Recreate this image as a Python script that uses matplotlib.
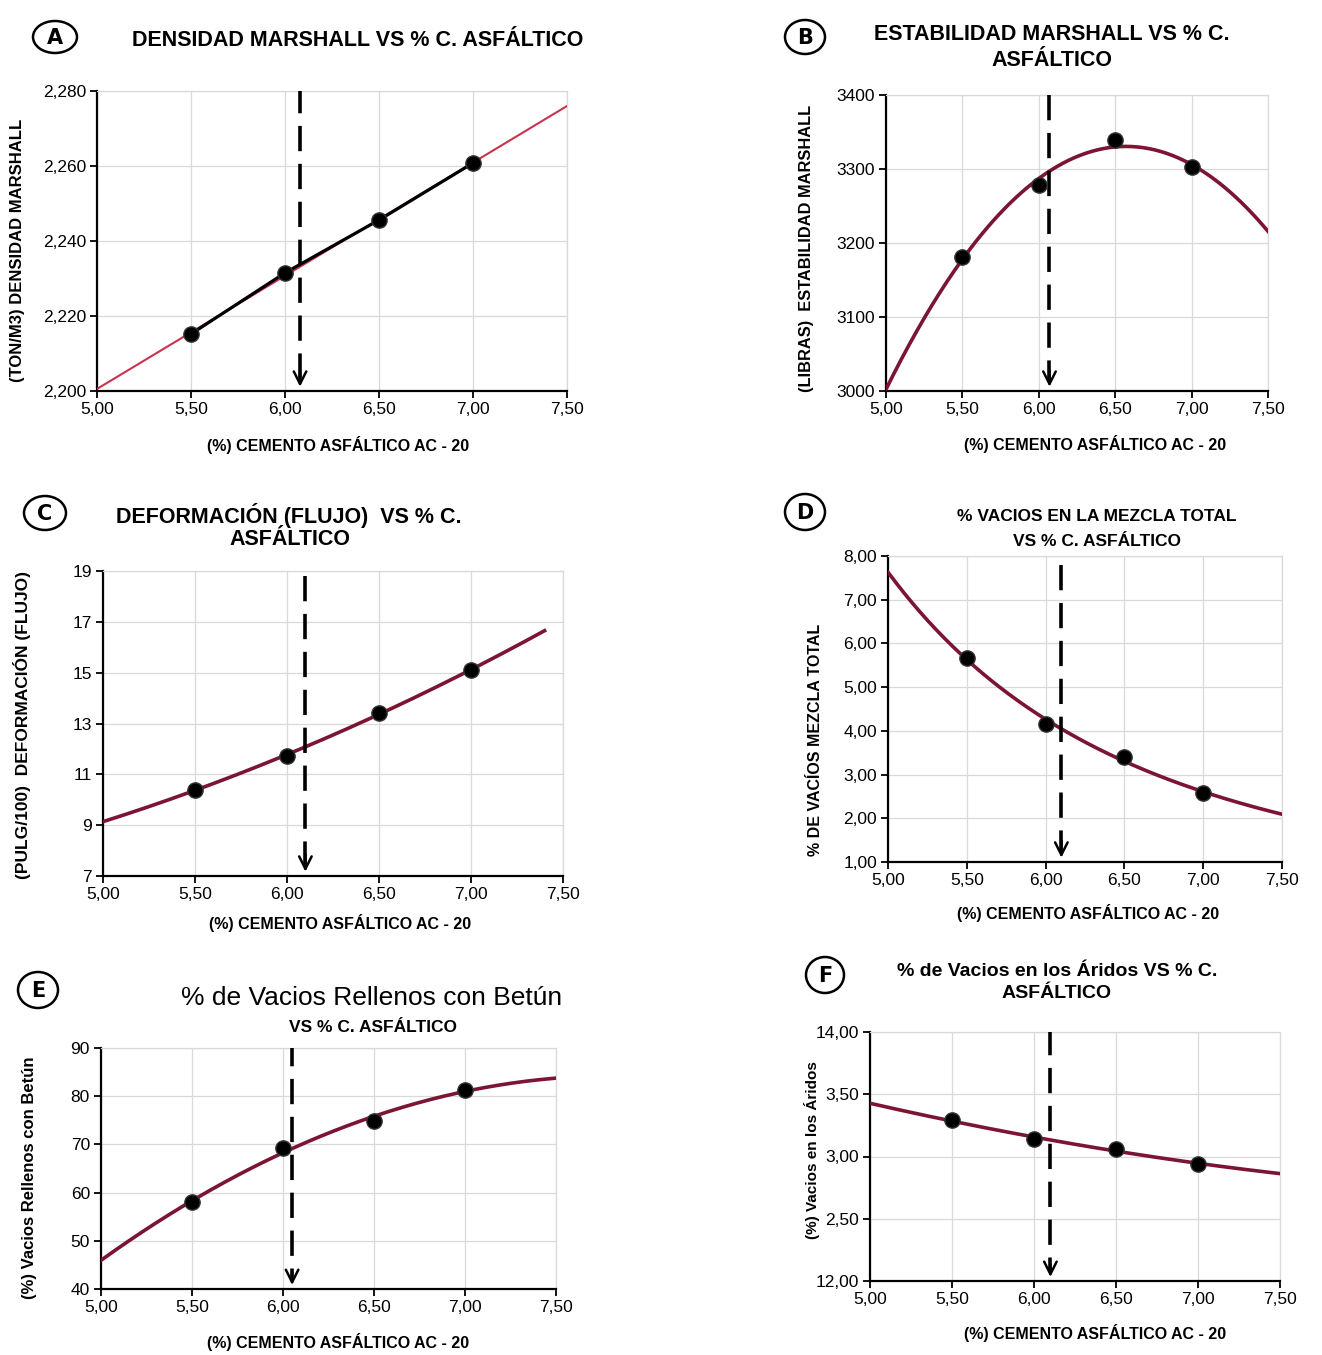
import matplotlib
matplotlib.use("Agg")
import matplotlib.pyplot as plt
from matplotlib.patches import Ellipse
from matplotlib import font_manager
import numpy as np

# ---- data ----
AC = [5.5, 6.0, 6.5, 7.0]                      # % cemento asfáltico
DENSIDAD = [2.2152, 2.2315, 2.2456, 2.2608]     # ton/m3
ESTABILIDAD = [3181, 3278, 3339, 3303]          # libras
FLUJO = [10.39, 11.72, 13.42, 15.10]            # pulg/100
VACIOS_MEZCLA = [5.67, 4.16, 3.40, 2.58]        # %
VRB = [58.0, 69.2, 74.9, 81.3]                  # %
VAM = [13.29, 13.14, 13.06, 12.94]              # %
OPT_AC = [6.08, 6.07, 6.10, 6.10, 6.05, 6.10]   # dashed arrow per panel

X_TICKS = [5.0, 5.5, 6.0, 6.5, 7.0, 7.5]
Y_TICKS_A = [2.200, 2.220, 2.240, 2.260, 2.280]
Y_TICKS_B = [3000, 3100, 3200, 3300, 3400]
Y_TICKS_C = [7, 9, 11, 13, 15, 17, 19]
Y_TICKS_D = [1, 2, 3, 4, 5, 6, 7, 8]
Y_TICKS_E = [40, 50, 60, 70, 80, 90]
Y_TICKS_F = [12.0, 12.5, 13.0, 13.5, 14.0]
Y_LABELS_F = ["12,00", "2,50", "3,00", "3,50", "14,00"]  # as printed on the sheet

XLABEL = "(%) CEMENTO ASFÁLTICO AC - 20"

W, H = 1322, 1355
avail = {f.name for f in font_manager.fontManager.ttflist}
NARROW = "Liberation Sans Narrow" if "Liberation Sans Narrow" in avail else "Liberation Sans"
plt.rcParams["font.family"] = [NARROW, "DejaVu Sans"]

CURVE = "#7b1533"
GRID = "#d9d9d9"

fig = plt.figure(figsize=(W / 100, H / 100), dpi=100)


def px_axes(l, t, r, b):
    return fig.add_axes([l / W, 1 - b / H, (r - l) / W, (b - t) / H])


def ftext(x, y, s, **kw):
    fig.text(x / W, 1 - y / H, s, ha="center", va="center", **kw)


def badge(x, y, w, h, letter):
    fig.patches.append(Ellipse((x / W, 1 - y / H), w / W, h / H, fill=False,
                               lw=1.8, ec="black", transform=fig.transFigure))
    ftext(x, y + 1, letter, fontsize=15, fontweight="bold", family="DejaVu Sans")


def comma(v, nd):
    return f"{v:.{nd}f}".replace(".", ",")


def style(ax, yticks, ylabels, ylim):
    ax.set_xlim(5.0, 7.5)
    ax.set_ylim(*ylim)
    ax.set_xticks(X_TICKS)
    ax.set_xticklabels([comma(v, 2) for v in X_TICKS], fontsize=12.5)
    ax.set_yticks(yticks)
    ax.set_yticklabels(ylabels, fontsize=12.5)
    ax.grid(True, color=GRID, lw=0.9)
    ax.set_axisbelow(True)
    for s in ("top", "right"):
        ax.spines[s].set_color(GRID)
        ax.spines[s].set_linewidth(0.9)
    for s in ("left", "bottom"):
        ax.spines[s].set_linewidth(1.6)
    ax.tick_params(direction="out", length=5, width=1.3, pad=3)


def opt_arrow(ax, x, top=1.0):
    tr = ax.get_xaxis_transform()
    ax.plot([x, x], [top, 0.035], transform=tr, color="black", lw=2.6,
            dashes=(7, 3.5), zorder=5)
    ax.annotate("", xy=(x, 0.005), xytext=(x, 0.08), xycoords=tr, textcoords=tr,
                arrowprops=dict(arrowstyle="->,head_length=0.9,head_width=0.45",
                                lw=1.8, color="black"), zorder=5)


def points(ax, y):
    ax.plot(AC, y, "o", color="black", ms=11, mec="#333333", zorder=6)


def poly_trend(ax, y, deg, x0=5.0, x1=7.5):
    coef = np.polyfit(AC, y, deg)
    xs = np.linspace(x0, x1, 200)
    ax.plot(xs, np.polyval(coef, xs), color=CURVE, lw=2.6, zorder=4)


# ---- A: densidad ----
ax = px_axes(97, 91, 567, 391)
style(ax, Y_TICKS_A, [comma(v, 3) for v in Y_TICKS_A], (2.200, 2.280))
coef = np.polyfit(AC, DENSIDAD, 1)
xs = np.linspace(5.0, 7.5, 50)
ax.plot(xs, np.polyval(coef, xs), color="#c8344f", lw=1.5, zorder=3)
ax.plot(AC, DENSIDAD, color="black", lw=2.3, zorder=4)
points(ax, DENSIDAD)
opt_arrow(ax, OPT_AC[0], 1.01)
badge(55, 37, 44, 32, "A")
ftext(358, 40, "DENSIDAD MARSHALL VS % C. ASFÁLTICO", fontsize=15.5, fontweight="bold")
ftext(338, 445, XLABEL, fontsize=11.5, fontweight="bold")
ftext(18, 250, "(TON/M3) DENSIDAD MARSHALL", fontsize=12, fontweight="bold", rotation=90)

# ---- B: estabilidad ----
ax = px_axes(886, 95, 1268, 391)
style(ax, Y_TICKS_B, [str(v) for v in Y_TICKS_B], (3000, 3400))
poly_trend(ax, ESTABILIDAD, 2)
points(ax, ESTABILIDAD)
opt_arrow(ax, OPT_AC[1], 1.0)
badge(805, 37, 40, 34, "B")
ftext(1052, 35, "ESTABILIDAD MARSHALL VS % C.", fontsize=15.5, fontweight="bold")
ftext(1052, 61, "ASFÁLTICO", fontsize=15.5, fontweight="bold")
ftext(1095, 444, XLABEL, fontsize=11.5, fontweight="bold")
ftext(806, 248, "(LIBRAS)  ESTABILIDAD MARSHALL", fontsize=11.8, fontweight="bold", rotation=90)

# ---- C: flujo ----
ax = px_axes(103, 571, 563, 876)
style(ax, Y_TICKS_C, [str(v) for v in Y_TICKS_C], (7, 19))
poly_trend(ax, FLUJO, 2, 5.0, 7.4)
points(ax, FLUJO)
opt_arrow(ax, OPT_AC[2], 0.985)
badge(45, 513, 42, 34, "C")
ftext(289, 515, "DEFORMACIÓN (FLUJO)  VS % C.", fontsize=15.5, fontweight="bold")
ftext(290, 540, "ASFÁLTICO", fontsize=15.5, fontweight="bold")
ftext(340, 923, XLABEL, fontsize=11.5, fontweight="bold")
ftext(22, 725, "(PULG/100)  DEFORMACIÓN (FLUJO)", fontsize=12.5, fontweight="bold", rotation=90)

# ---- D: vacios mezcla total (power trend) ----
ax = px_axes(888, 556, 1282, 862)
style(ax, Y_TICKS_D, [comma(v, 2) for v in Y_TICKS_D], (1, 8))
coef = np.polyfit(np.log(AC), np.log(VACIOS_MEZCLA), 1)
xs = np.linspace(5.0, 7.5, 200)
ax.plot(xs, np.exp(np.polyval(coef, np.log(xs))), color=CURVE, lw=2.6, zorder=4)
points(ax, VACIOS_MEZCLA)
opt_arrow(ax, OPT_AC[3], 0.97)
badge(805, 512, 40, 36, "D")
ftext(1097, 517, "% VACIOS EN LA MEZCLA TOTAL", fontsize=12.5, fontweight="bold")
ftext(1097, 542, "VS % C. ASFÁLTICO", fontsize=12.5, fontweight="bold")
ftext(1088, 913, XLABEL, fontsize=11.5, fontweight="bold")
ftext(815, 740, "% DE VACÍOS MEZCLA TOTAL", fontsize=11.5, fontweight="bold", rotation=90)

# ---- E: vacios rellenos con betun ----
ax = px_axes(101, 1048, 556, 1289)
style(ax, Y_TICKS_E, [str(v) for v in Y_TICKS_E], (40, 90))
poly_trend(ax, VRB, 2)
points(ax, VRB)
opt_arrow(ax, OPT_AC[4], 1.03)
badge(38, 990, 40, 36, "E")
ftext(372, 998, "% de Vacios Rellenos con Betún", fontsize=19, family=["Liberation Sans", "DejaVu Sans"])
ftext(373, 1028, "VS % C. ASFÁLTICO", fontsize=12.5, fontweight="bold")
ftext(338, 1342, XLABEL, fontsize=11.5, fontweight="bold")
ftext(30, 1178, "(%) Vacios Rellenos con Betún", fontsize=12, fontweight="bold", rotation=90)

# ---- F: vacios en los aridos ----
ax = px_axes(870, 1032, 1280, 1281)
style(ax, Y_TICKS_F, Y_LABELS_F, (12, 14))
poly_trend(ax, VAM, 2)
points(ax, VAM)
opt_arrow(ax, OPT_AC[5], 1.01)
badge(825, 975, 38, 36, "F")
ftext(1057, 972, "% de Vacios en los Áridos VS % C.", fontsize=14, fontweight="bold")
ftext(1057, 993, "ASFÁLTICO", fontsize=14, fontweight="bold")
ftext(1095, 1333, XLABEL, fontsize=11.5, fontweight="bold")
ftext(812, 1150, "(%) Vacios en los Áridos", fontsize=11, fontweight="bold", rotation=90)

fig.savefig("out.png", dpi=100, facecolor="white")
